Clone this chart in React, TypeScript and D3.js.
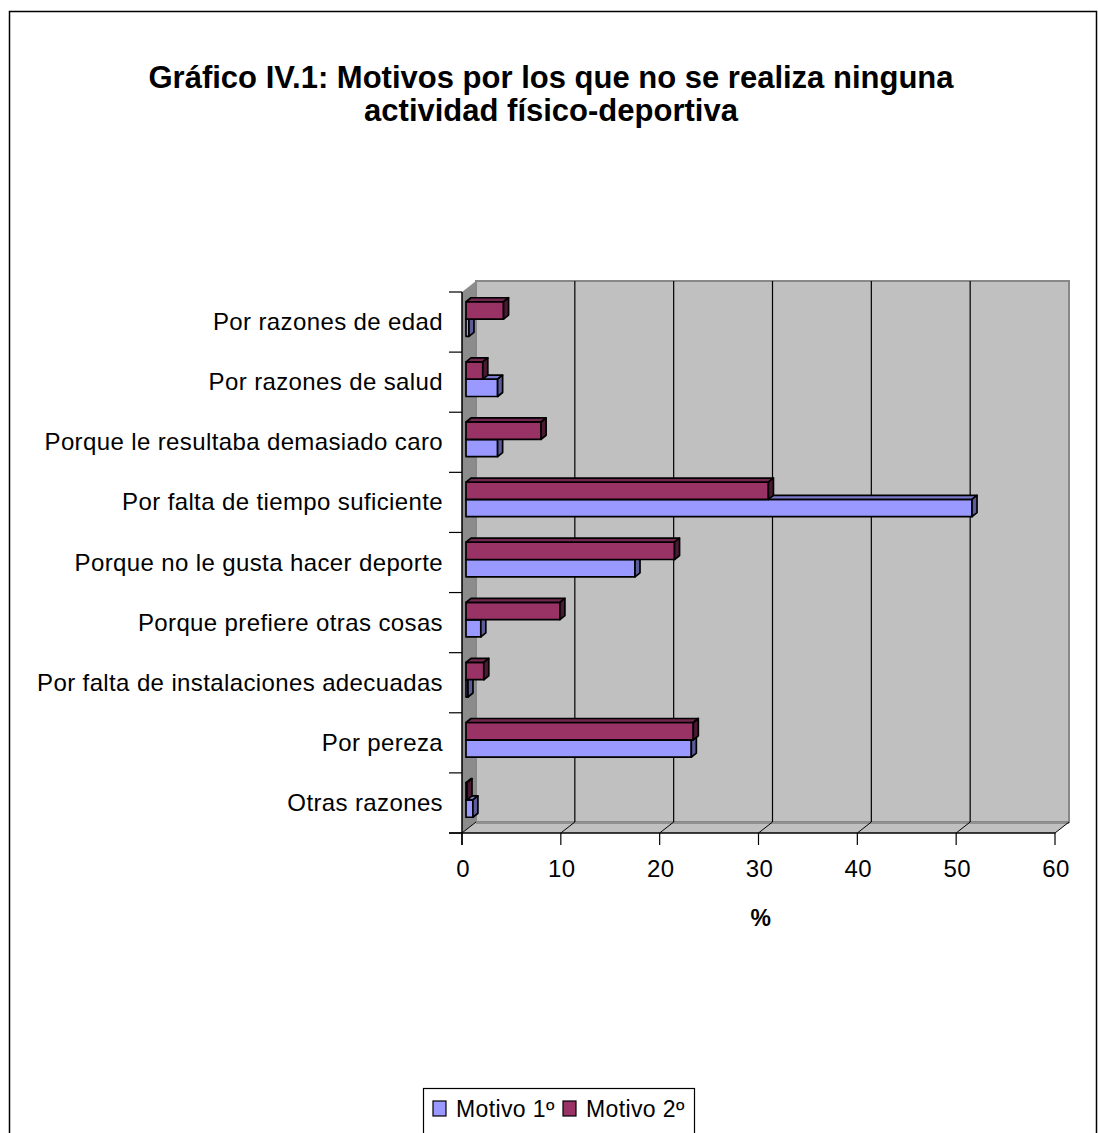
import React from "react";
import * as d3 from "d3";

const categories = [
  "Por razones de edad",
  "Por razones de salud",
  "Porque le resultaba demasiado caro",
  "Por falta de tiempo suficiente",
  "Porque no le gusta hacer deporte",
  "Porque prefiere otras cosas",
  "Por falta de instalaciones adecuadas",
  "Por pereza",
  "Otras razones",
];
const motivo1 = [0.3, 3.2, 3.2, 51.2, 17.1, 1.5, 0.2, 22.8, 0.7];
const motivo2 = [3.8, 1.7, 7.6, 30.6, 21.1, 9.5, 1.8, 23.0, 0.1];
const seriesNames = ["Motivo 1º", "Motivo 2º"];
const xTicks = [0, 10, 20, 30, 40, 50, 60];
const titleLines = [
  "Gráfico IV.1: Motivos por los que no se realiza ninguna",
  "actividad físico-deportiva",
];
const axisTitle = "%";

const FONT = "Arial, 'Liberation Sans', Helvetica, sans-serif";

export default function App() {
  const W = 1098;
  const H = 1133;
  const x = d3.scaleLinear().domain([0, 60]).range([462, 1055]);
  const y = d3
    .scaleBand<string>()
    .domain(categories)
    .range([292, 833])
    .paddingInner(0.424)
    .paddingOuter(0.212);
  const sub = d3
    .scaleBand<string>()
    .domain([seriesNames[1], seriesNames[0]])
    .range([0, y.bandwidth()]);
  const yb = d3.scaleBand<string>().domain(categories).range([292, 833]);

  const wdx = 14, wdy = -11;
  const fdx = 4, fdy = -3, bdx = 5, bdy = -4;

  const colors: Record<string, { front: string; top: string; side: string }> = {
    "Motivo 1º": { front: "#9999FF", top: "#7a7acc", side: "#5c5c99" },
    "Motivo 2º": { front: "#993366", top: "#73264d", side: "#4d1a33" },
  };

  const x0 = x(0), xMax = x(60);
  const yTop = 292, yBot = 833;

  const pts = (arr: number[][]) => arr.map((p) => p.join(",")).join(" ");

  const bars: JSX.Element[] = [];
  categories.forEach((c, i) => {
    const series = [
      { name: seriesNames[0], v: motivo1[i] },
      { name: seriesNames[1], v: motivo2[i] },
    ];
    series.forEach((s) => {
      const col = colors[s.name];
      const t = (y(c) as number) + (sub(s.name) as number) + fdy;
      const b = t + sub.bandwidth();
      const xa = x(0) + fdx;
      const xe = x(s.v) + fdx;
      bars.push(
        <g key={c + s.name} stroke="#000" strokeWidth={1.7} strokeLinejoin="round">
          <rect x={xa} y={t} width={Math.max(xe - xa, 0.5)} height={b - t} fill={col.front} />
          <polygon
            points={pts([[xa, t], [xa + bdx, t + bdy], [xe + bdx, t + bdy], [xe, t]])}
            fill={col.top}
          />
          <polygon
            points={pts([[xe, t], [xe + bdx, t + bdy], [xe + bdx, b + bdy], [xe, b]])}
            fill={col.side}
          />
        </g>
      );
    });
  });

  const textStyle = { fontFamily: FONT, fontSize: 24, letterSpacing: "0.38px" } as React.CSSProperties;

  return (
    <svg
      width={W}
      height={H}
      viewBox={`0 0 ${W} ${H}`}
      style={{ position: "absolute", left: 0, top: 0, background: "#fff" }}
    >
      <rect x={9.5} y={11.5} width={1087} height={1200} fill="#fff" stroke="#000" strokeWidth={1.5} />

      {titleLines.map((l, i) => (
        <text
          key={i}
          x={551}
          y={88 + i * 33}
          textAnchor="middle"
          style={{ fontFamily: FONT, fontSize: 31, fontWeight: "bold" }}
        >
          {l}
        </text>
      ))}

      <polygon
        points={pts([[x0, yTop], [x0 + wdx, yTop + wdy], [x0 + wdx, yBot + wdy], [x0, yBot]])}
        fill="#8c8c8c"
      />
      <polygon
        points={pts([[x0, yBot], [x0 + wdx, yBot + wdy], [xMax + wdx, yBot + wdy], [xMax, yBot]])}
        fill="#c0c0c0"
      />
      <rect
        x={x0 + wdx}
        y={yTop + wdy}
        width={xMax - x0}
        height={yBot - yTop}
        fill="#c0c0c0"
        stroke="#888"
        strokeWidth={2}
      />
      <line x1={x0 + wdx} x2={xMax + wdx} y1={yBot + wdy + 1} y2={yBot + wdy + 1} stroke="#909090" strokeWidth={2} />
      {xTicks.slice(1, -1).map((t) => (
        <line
          key={t}
          x1={x(t) + wdx}
          x2={x(t) + wdx}
          y1={yTop + wdy}
          y2={yBot + wdy}
          stroke="#000"
          strokeWidth={1.2}
        />
      ))}
      {xTicks.map((t) => (
        <line
          key={"d" + t}
          x1={x(t)}
          y1={yBot}
          x2={x(t) + wdx}
          y2={yBot + wdy}
          stroke="#000"
          strokeWidth={1}
        />
      ))}

      {bars}

      <line x1={x0} x2={x0} y1={yTop} y2={yBot + 12} stroke="#000" strokeWidth={1.5} />
      <line x1={449} x2={xMax} y1={yBot} y2={yBot} stroke="#000" strokeWidth={1.5} />
      {[...categories.map((c) => yb(c) as number), yBot].map((v, i) => (
        <line key={"yt" + i} x1={449} x2={x0} y1={v} y2={v} stroke="#000" strokeWidth={1.2} />
      ))}
      {xTicks.map((t) => (
        <line key={"xt" + t} x1={x(t)} x2={x(t)} y1={yBot} y2={yBot + 12} stroke="#000" strokeWidth={1.2} />
      ))}
      {xTicks.map((t) => (
        <text key={"xl" + t} x={x(t) + 1} y={877} textAnchor="middle" style={textStyle}>
          {t}
        </text>
      ))}
      <text x={761} y={926} textAnchor="middle" style={{ ...textStyle, fontSize: 23, fontWeight: "bold" }}>
        {axisTitle}
      </text>
      {categories.map((c) => (
        <text
          key={"cl" + c}
          x={443}
          y={(yb(c) as number) + yb.bandwidth() / 2 + 8}
          textAnchor="end"
          style={textStyle}
        >
          {c}
        </text>
      ))}

      <rect x={423.5} y={1088.5} width={271} height={80} fill="#fff" stroke="#000" strokeWidth={1.2} />
      {seriesNames.map((s, i) => {
        const lx = i === 0 ? 433 : 563;
        return (
          <g key={"lg" + s}>
            <rect x={lx} y={1101} width={13} height={15} fill={colors[s].front} stroke="#000" strokeWidth={1.2} />
            <text x={lx + 23} y={1117} style={{ ...textStyle, fontSize: 23 }}>
              {s}
            </text>
          </g>
        );
      })}
    </svg>
  );
}
